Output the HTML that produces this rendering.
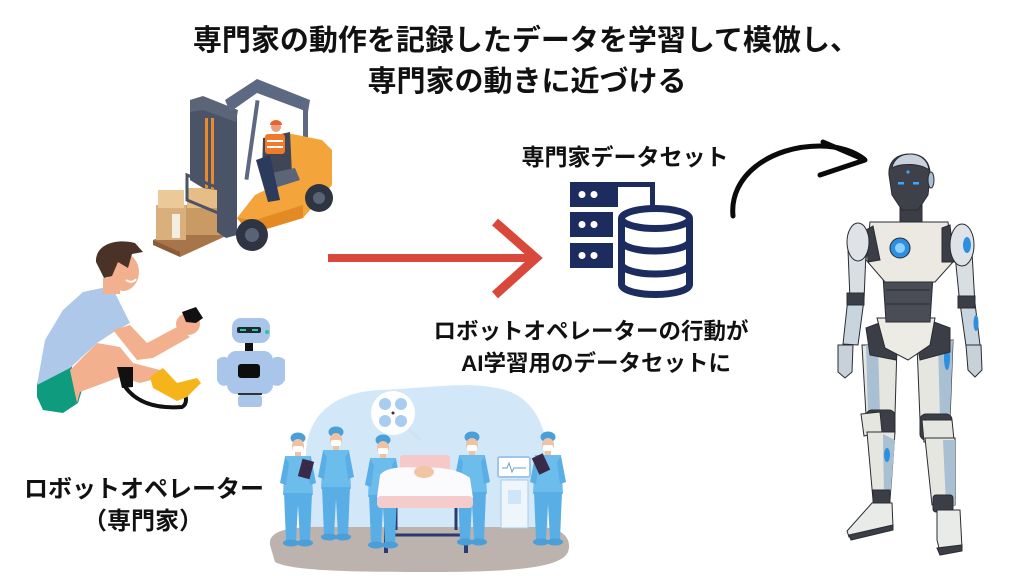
<!DOCTYPE html>
<html><head><meta charset="utf-8">
<style>
html,body{margin:0;padding:0;background:#fff;}
svg{display:block;}
text{font-family:"Liberation Sans","Noto Sans CJK JP",sans-serif;font-weight:700;fill:#111;}
</style></head>
<body>
<svg width="1024" height="576" viewBox="0 0 1024 576" xmlns="http://www.w3.org/2000/svg">
<defs>
  <g id="doc">
    <ellipse cx="0" cy="5" rx="7.5" ry="5.5" fill="#4a9fd8"/>
    <ellipse cx="0" cy="13" rx="6" ry="7" fill="#f0c2a4"/>
    <rect x="-5" y="13" width="10" height="6" rx="2" fill="#fff"/>
    <rect x="-3" y="19" width="6" height="5" fill="#f0c2a4"/>
    <path d="M-13,23 L13,23 L15,62 L-15,62 Z" fill="#6cbcec"/>
    <path d="M-13,24 L-18,50 L-12,52 L-9,30 Z" fill="#5aaee6"/>
    <path d="M13,24 L18,50 L12,52 L9,30 Z" fill="#5aaee6"/>
    <path d="M-14,60 L14,60 L12,108 L2,108 L0,72 L-2,108 L-12,108 Z" fill="#5aaee6"/>
    <ellipse cx="-7" cy="110" rx="8" ry="3.5" fill="#4a9fd8"/>
    <ellipse cx="7" cy="110" rx="8" ry="3.5" fill="#4a9fd8"/>
  </g>
</defs>

<!-- Title -->
<text x="526" y="50" font-size="29" text-anchor="middle">専門家の動作を記録したデータを学習して模倣し、</text>
<text x="527" y="91" font-size="29" text-anchor="middle">専門家の動きに近づける</text>

<!-- Forklift -->
<g>
  <polygon points="153,240 198,222 226,236 180,257" fill="#a8744a"/>
  <polygon points="153,240 180,252 180,257 153,245" fill="#8a5c38"/>
  <rect x="156" y="205" width="30" height="35" fill="#d9b07c"/>
  <rect x="186" y="205" width="34" height="30" fill="#c99a64"/>
  <rect x="158" y="190" width="26" height="18" fill="#ecc998"/>
  <rect x="187" y="188" width="30" height="20" fill="#e6bd86"/>
  <rect x="172" y="214" width="8" height="24" fill="#f4ede2"/>
  <polygon points="190,100 203,97 237,110 237,235 226,238 217,232 217,190 203,188 190,180" fill="#4b5366"/>
  <rect x="205" y="118" width="3" height="70" fill="#e98a2c"/>
  <rect x="211" y="118" width="3" height="72" fill="#e98a2c"/>
  <polygon points="190,100 203,96 238,110 236,122 203,110 190,112" fill="#5c6478"/>
  <polygon points="187,175 223,190 223,215 187,200" fill="none" stroke="#4b5366" stroke-width="3"/>
  <polygon points="225,100 257,79 310,100 308,112 257,93 230,112" fill="#5d6882"/>
  <rect x="303" y="108" width="5" height="55" fill="#5d6882"/>
  <rect x="250" y="100" width="4" height="80" fill="#5d6882" transform="rotate(8 252 140)"/>
  <polygon points="287,133 322,140 332,150 332,185 303,218 250,234 237,218 255,195 290,178" fill="#f3a53b"/>
  <polygon points="237,218 250,234 303,218 303,205 255,220" fill="#e48a24"/>
  <polygon points="263,138 290,132 292,175 272,182 262,175" fill="#3e4658"/>
  <polygon points="262,175 295,168 300,180 268,190" fill="#5c6478"/>
  <rect x="265" y="134" width="20" height="20" rx="3" fill="#f07a2a"/>
  <rect x="267" y="140" width="16" height="2" fill="#fff"/>
  <rect x="267" y="146" width="16" height="2" fill="#fff"/>
  <circle cx="276" cy="127" r="5" fill="#e8a080"/>
  <path d="M270,125 a6,5 0 0 1 12,0 Z" fill="#e8622a"/>
  <polygon points="256,160 270,155 280,200 268,202" fill="#2c3a5c"/>
  <circle cx="252" cy="235" r="16" fill="#2e3442"/>
  <circle cx="252" cy="235" r="7" fill="#5a6275"/>
  <circle cx="319" cy="198" r="14" fill="#2e3442"/>
  <circle cx="319" cy="198" r="6" fill="#5a6275"/>
</g>

<!-- Person -->
<g>
  <polygon points="37,383 70,363 82,390 78,403 63,413 43,410 37,397" fill="#0f9b7e"/>
  <polygon points="70,370 97,343 120,347 133,363 160,370 163,377 140,383 120,377 80,392 77,403" fill="#f3b08f"/>
  <path d="M37,385 L45,340 L63,310 L83,292 L102,288 L115,293 L130,323 L117,330 L97,343 L70,368 Z" fill="#adc8e8"/>
  <rect x="103" y="278" width="17" height="16" fill="#f3b08f"/>
  <polygon points="113,330 130,325 147,343 177,327 190,337 153,358 137,360" fill="#f3b08f"/>
  <ellipse cx="188" cy="324" rx="12" ry="11" fill="#f3b08f"/>
  <path d="M182,312 L196,307 L203,318 L196,323 L186,322 Z" fill="#111"/>
  <ellipse cx="123" cy="272" rx="16" ry="19" fill="#f3b08f"/>
  <path d="M96,262 C95,245 115,238 135,243 L143,252 L132,254 L128,268 L118,262 L112,276 L104,278 Z" fill="#4b3226"/>
  <path d="M126,280 Q132,284 136,279" stroke="#fff" stroke-width="2" fill="none"/>
  <path d="M117,367 L133,367 L133,387 L122,388 Z" fill="#111"/>
  <path d="M124,385 Q140,410 182,407 Q188,404 185,393" stroke="#111" stroke-width="4" fill="none"/>
  <polygon points="150,377 163,368 177,383 197,378 201,383 187,397 177,401 153,388" fill="#f4b41a"/>
</g>

<!-- Small robot -->
<g>
  <path d="M217,360 Q222,355 228,358 L228,385 Q220,388 217,380 Z" fill="#a9c6ea"/>
  <path d="M285,360 Q280,355 273,358 L273,385 Q281,388 285,380 Z" fill="#a9c6ea"/>
  <rect x="232" y="318" width="38" height="25" rx="9" fill="#a9c6ea"/>
  <rect x="237" y="327" width="24" height="6" rx="2" fill="#1d2a33"/>
  <rect x="240" y="329" width="6" height="2" fill="#2ec4a0"/>
  <rect x="252" y="329" width="6" height="2" fill="#2ec4a0"/>
  <circle cx="267" cy="332" r="2" fill="#2ec4a0"/>
  <rect x="245" y="343" width="8" height="9" fill="#111"/>
  <rect x="227" y="351" width="46" height="43" rx="9" fill="#a9c6ea"/>
  <rect x="238" y="364" width="22" height="14" rx="3" fill="#0d0d0d"/>
  <rect x="238" y="395" width="24" height="12" rx="3" fill="#a9c6ea"/>
  <rect x="238" y="393" width="24" height="2" fill="#333"/>
</g>

<!-- Surgery scene -->
<g>
  <path d="M307,470 C300,420 330,392 380,390 C430,388 470,380 505,390 C540,400 550,440 548,470 L548,530 L307,530 Z" fill="#d2e8f9"/>
  <path d="M270,545 C268,530 290,526 330,527 L540,527 C565,528 572,540 568,552 C560,570 500,572 420,572 C340,572 290,570 275,562 Z" fill="#bcb2ae"/>
  <line x1="393" y1="413" x2="420" y2="440" stroke="#cfe3f3" stroke-width="4"/>
  <circle cx="393" cy="413" r="22" fill="#fff"/>
  <circle cx="385" cy="404" r="6" fill="#a8cdf0"/>
  <circle cx="401" cy="404" r="6" fill="#a8cdf0"/>
  <circle cx="385" cy="421" r="6" fill="#a8cdf0"/>
  <circle cx="401" cy="421" r="6" fill="#a8cdf0"/>
  <circle cx="393" cy="413" r="1.5" fill="#333"/>
  <rect x="498" y="457" width="32" height="20" rx="2" fill="#fff" stroke="#9cc6ea" stroke-width="2"/>
  <path d="M502,468 l5,0 l2,-5 l3,9 l2,-4 l12,0" stroke="#6a9fd0" stroke-width="1" fill="none"/>
  <rect x="501" y="480" width="27" height="48" fill="#eef5fb" stroke="#a8cde8" stroke-width="1"/>
  <rect x="508" y="490" width="13" height="14" fill="#cfe6f8"/>
  <rect x="400" y="455" width="50" height="16" rx="3" fill="#f6c8c8"/>
  <line x1="386" y1="505" x2="386" y2="553" stroke="#2d3a6e" stroke-width="4"/>
  <line x1="466" y1="505" x2="466" y2="553" stroke="#2d3a6e" stroke-width="4"/>
  <line x1="386" y1="535" x2="466" y2="535" stroke="#2d3a6e" stroke-width="3"/>
  <line x1="396" y1="505" x2="396" y2="530" stroke="#2d3a6e" stroke-width="3"/>
  <line x1="456" y1="505" x2="456" y2="530" stroke="#2d3a6e" stroke-width="3"/>
  <use href="#doc" transform="translate(298,433)"/>
  <use href="#doc" transform="translate(336,427)"/>
  <use href="#doc" transform="translate(383,435)"/>
  <use href="#doc" transform="translate(472,432)"/>
  <use href="#doc" transform="translate(548,432)"/>
  <path d="M380,475 C385,468 400,466 420,468 C440,466 460,470 470,478 L473,498 L377,498 Z" fill="#fbfbfd"/>
  <rect x="377" y="496" width="96" height="12" rx="4" fill="#f4cccc"/>
  <ellipse cx="424" cy="472" rx="10" ry="6" fill="#f2c4a6"/>
  <rect x="300" y="460" width="12" height="18" fill="#3a2a4a" transform="rotate(15 306 469)"/>
  <rect x="535" y="455" width="12" height="18" fill="#3a2a4a" transform="rotate(-25 541 464)"/>
</g>

<!-- Red arrow -->
<line x1="328" y1="258" x2="534" y2="258" stroke="#d9493b" stroke-width="8"/>
<polyline points="495,222 536,258 495,295" fill="none" stroke="#d9493b" stroke-width="9"/>

<!-- Dataset label -->
<text x="625" y="165" font-size="23" text-anchor="middle">専門家データセット</text>

<!-- Database icon -->
<g fill="#1d2c5e">
  <rect x="570" y="182" width="48" height="25"/>
  <path d="M617,184.5 L652.5,184.5 L652.5,206" fill="none" stroke="#1d2c5e" stroke-width="5"/>
  <rect x="570" y="212" width="43" height="25"/>
  <rect x="570" y="243" width="43" height="25"/>
  <g fill="#fff">
    <circle cx="582" cy="194.5" r="3.5"/><circle cx="594" cy="194.5" r="3.5"/>
    <circle cx="582" cy="224.5" r="3.5"/><circle cx="594" cy="224.5" r="3.5"/>
    <circle cx="582" cy="255.5" r="3.5"/><circle cx="594" cy="255.5" r="3.5"/>
  </g>
  <g fill="none" stroke="#1d2c5e" stroke-width="7">
    <rect x="618" y="205" width="0" height="0"/>
    <path d="M621.5,218.5 L621.5,284.5 A34,10 0 0 0 689.5,284.5 L689.5,218.5" fill="#fff"/>
    <ellipse cx="655.5" cy="218.5" rx="34" ry="10" fill="#fff"/>
    <path d="M621.5,241 A34,10 0 0 0 689.5,241"/>
    <path d="M621.5,264 A34,10 0 0 0 689.5,264"/>
  </g>
</g>

<!-- Caption -->
<text x="591" y="339" font-size="22.5" text-anchor="middle">ロボットオペレーターの行動が</text>
<text x="596" y="371" font-size="22.5" text-anchor="middle">AI学習用のデータセットに</text>

<!-- Bottom-left label -->
<text x="144" y="497" font-size="24" text-anchor="middle">ロボットオペレーター</text>
<text x="143" y="529" font-size="24" text-anchor="middle">（専門家）</text>

<!-- Black curved arrow -->
<path d="M733,216 C729,176 770,146 820,146 C840,146 855,152 864,159" fill="none" stroke="#0a0a0a" stroke-width="5" stroke-linecap="round"/>
<path d="M823,142 L865,160 L820,175" fill="none" stroke="#0a0a0a" stroke-width="5" stroke-linecap="round" stroke-linejoin="round"/>

<!-- Humanoid robot -->
<g stroke="#2a2c33" stroke-width="1">
  <!-- arms -->
  <path d="M848,250 L866,252 L864,300 L850,300 Z" fill="#d9dee3"/>
  <path d="M848,298 L864,300 L858,345 L843,344 Z" fill="#c8d4de"/>
  <rect x="847" y="293" width="17" height="12" fill="#3b3e46"/>
  <path d="M838,345 L853,345 L852,372 L845,378 L838,372 Z" fill="#c8d0d8"/>
  <path d="M955,255 L972,252 L975,305 L960,305 Z" fill="#d9dee3"/>
  <path d="M960,303 L975,303 L980,345 L966,346 Z" fill="#c8d4de"/>
  <rect x="958" y="296" width="17" height="12" fill="#3b3e46"/>
  <ellipse cx="976" cy="323" rx="2.5" ry="8" fill="#2d8fe0" stroke="none"/>
  <path d="M966,345 L981,345 L982,370 L975,377 L968,370 Z" fill="#c8d0d8"/>
  <!-- legs -->
  <path d="M862,345 L897,345 L895,415 L866,415 Z" fill="#e6e6e0"/>
  <path d="M866,345 L878,345 L880,414 L868,414 Z" fill="#a9bfd2" stroke="none"/>
  <rect x="866" y="410" width="29" height="28" rx="6" fill="#3b3e46"/>
  <path d="M861,414 L880,412 L882,432 L864,436 Z" fill="#e6e6e0"/>
  <path d="M867,432 L895,432 L890,500 L873,500 Z" fill="#e6e6e0"/>
  <path d="M883,434 L895,440 L890,500 L884,500 Z" fill="#a9bfd2" stroke="none"/>
  <ellipse cx="887" cy="455" rx="3" ry="7" fill="#2d8fe0" stroke="none"/>
  <rect x="873" y="490" width="17" height="15" fill="#3b3e46"/>
  <path d="M872,503 L892,503 L893,527 L849,537 L847,531 Z" fill="#e9ebe8"/>
  <path d="M849,535 L893,525 L893,530 L851,540 Z" fill="#3b3e46"/>
  <path d="M917,345 L953,340 L950,420 L920,420 Z" fill="#e6e6e0"/>
  <path d="M938,343 L953,340 L950,418 L940,418 Z" fill="#a9bfd2" stroke="none"/>
  <ellipse cx="947" cy="358" rx="3" ry="12" fill="#2d8fe0" stroke="none"/>
  <rect x="920" y="414" width="32" height="26" rx="6" fill="#3b3e46"/>
  <path d="M922,420 L952,420 L954,440 L924,442 Z" fill="#e6e6e0"/>
  <path d="M925,438 L955,438 L955,505 L932,505 Z" fill="#e6e6e0"/>
  <path d="M943,440 L955,440 L955,505 L946,505 Z" fill="#a9bfd2" stroke="none"/>
  <rect x="933" y="495" width="20" height="17" rx="3" fill="#3b3e46"/>
  <path d="M937,510 L960,510 L962,548 L940,552 L937,540 Z" fill="#e9ebe8"/>
  <path d="M937,548 L962,545 L962,551 L940,555 Z" fill="#3b3e46"/>
  <!-- hips & pelvis -->
  <path d="M866,328 L882,322 L898,348 L896,360 L870,355 Z" fill="#3b3e46"/>
  <path d="M950,328 L934,322 L918,348 L920,360 L950,352 Z" fill="#3b3e46"/>
  <path d="M877,318 L935,318 L930,345 L908,360 L885,348 Z" fill="#ecebe4"/>
  <!-- abdomen -->
  <path d="M883,276 L933,276 L930,322 L886,322 Z" fill="#4a4d55"/>
  <line x1="886" y1="290" x2="930" y2="290" stroke="#2a2c33"/>
  <line x1="886" y1="304" x2="930" y2="304" stroke="#2a2c33"/>
  <!-- neck -->
  <rect x="900" y="205" width="22" height="20" fill="#3b3e46"/>
  <!-- chest -->
  <path d="M870,222 L948,222 L953,262 L935,282 L885,282 L866,260 Z" fill="#ebe9e2"/>
  <path d="M866,230 L873,226 L880,260 L868,262 Z" fill="#3b3e46"/>
  <path d="M942,228 L950,225 L954,262 L942,262 Z" fill="#3b3e46"/>
  <circle cx="900" cy="248" r="10" fill="#2d8fe0"/>
  <circle cx="900" cy="248" r="5" fill="#8fd0ff" stroke="none"/>
  <!-- shoulders -->
  <ellipse cx="858" cy="242" rx="11" ry="19" fill="#dfe3e7"/>
  <ellipse cx="962" cy="245" rx="12" ry="21" fill="#dfe3e7"/>
  <ellipse cx="967" cy="245" rx="4" ry="8" fill="#2d8fe0" stroke="none"/>
  <!-- head -->
  <path d="M889,175 C888,160 898,154 910,154 C923,154 931,162 930,177 L928,195 L918,210 L902,210 L892,195 Z" fill="#3e4149"/>
  <path d="M892,168 C894,158 902,154 910,154 C920,154 928,160 929,170 C920,163 900,163 892,168 Z" fill="#c9d2dc"/>
  <ellipse cx="931" cy="180" rx="3" ry="8" fill="#a9bfd2"/>
  <rect x="898" y="182" width="6" height="2.5" fill="#3fa6ff" stroke="none"/>
  <rect x="913" y="182" width="6" height="2.5" fill="#3fa6ff" stroke="none"/>
  <circle cx="908" cy="172" r="1.6" fill="#3fa6ff" stroke="none"/>
</g>
</svg>
</body></html>
